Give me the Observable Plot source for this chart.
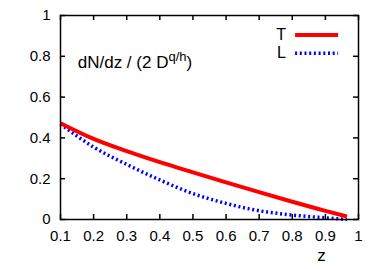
<!DOCTYPE html>
<html><head><meta charset="utf-8">
<script src="https://cdn.jsdelivr.net/npm/d3@7"></script>
<script src="https://cdn.jsdelivr.net/npm/@observablehq/plot@0.6"></script>
<style>html,body{margin:0;padding:0;background:#fff;}</style>
</head><body><div id="chart"></div>
<script>
// ---- data ----
const z  = [0.1, 0.2, 0.3, 0.4, 0.5, 0.6, 0.7, 0.8, 0.9, 0.965];
const dT = [0.472, 0.395, 0.335, 0.281, 0.231, 0.182, 0.134, 0.087, 0.042, 0.015];
const dL = [0.468, 0.355, 0.27, 0.194, 0.127, 0.079, 0.043, 0.022, 0.008, 0.0];
const seriesNames = ["T", "L"];
const xTicks = [0.1, 0.2, 0.3, 0.4, 0.5, 0.6, 0.7, 0.8, 0.9, 1];
const xTickLabels = ["0.1", "0.2", "0.3", "0.4", "0.5", "0.6", "0.7", "0.8", "0.9", "1"];
const yTicks = [0, 0.2, 0.4, 0.6, 0.8, 1];
const yTickLabels = ["0", "0.2", "0.4", "0.6", "0.8", "1"];
const annotationText = "dN/dz / (2 D";
const annotationSup = "q/h";
const annotationEnd = ")";
const xLabel = "z";

// ---- layout / style ----
const W = 385, H = 269;
const mL = 60, mR = 27, mT = 15, mB = 50;
const innerW = W - mL - mR, innerH = H - mT - mB;
const tickLen = 5;
const colors = {T: "#ff0000", L: "#0000ff"};
const dash = "2,2.7";
const legendPos = {xText: 0.781, x1: 0.81, x2: 0.94, y: {T: 0.905, L: 0.815}};
const annotationPos = {x: 0.152, y: 0.745};
const xLabelPos = 0.888;

const rowsT = z.map((v, i) => ({z: v, d: dT[i]}));
const rowsL = z.map((v, i) => ({z: v, d: dL[i]}));
const legendRows = seriesNames.map(s => ({s, y: legendPos.y[s]}));

const font = "'Liberation Sans', Arial, Helvetica, sans-serif";

const plot = Plot.plot({
  width: W, height: H,
  marginLeft: mL, marginRight: mR, marginTop: mT, marginBottom: mB,
  style: {fontFamily: font, fontSize: "15px", color: "#000", background: "#fff"},
  x: {domain: [0.1, 1]},
  y: {domain: [0, 1]},
  marks: [
    Plot.axisX(xTicks, {tickSize: 0, tickPadding: 11, tickFormat: (d, i) => xTickLabels[i], label: null, fontSize: 15}),
    Plot.axisY(yTicks, {tickSize: 0, tickPadding: 10, tickFormat: (d, i) => yTickLabels[i], label: null, fontSize: 15}),
    // inward ticks, mirrored on all four sides
    Plot.tickX(xTicks, {x: d => d, insetTop: innerH - tickLen, stroke: "#000", strokeWidth: 1.5}),
    Plot.tickX(xTicks, {x: d => d, insetBottom: innerH - tickLen, stroke: "#000", strokeWidth: 1.5}),
    Plot.tickY(yTicks, {y: d => d, insetRight: innerW - tickLen, stroke: "#000", strokeWidth: 1.5}),
    Plot.tickY(yTicks, {y: d => d, insetLeft: innerW - tickLen, stroke: "#000", strokeWidth: 1.5}),
    // curves
    Plot.line(rowsL, {x: "z", y: "d", stroke: colors.L, strokeWidth: 3.5, strokeDasharray: dash, strokeLinecap: "butt", curve: "monotone-x"}),
    Plot.line(rowsT, {x: "z", y: "d", stroke: colors.T, strokeWidth: 4, strokeLinecap: "butt", curve: "monotone-x"}),
    Plot.frame({stroke: "#000", strokeWidth: 1.5}),
    // legend
    Plot.text(legendRows, {x: () => legendPos.xText, y: "y", text: "s", textAnchor: "end", fontSize: 16}),
    Plot.ruleY(legendRows.filter(d => d.s === "T"), {x1: () => legendPos.x1, x2: () => legendPos.x2, y: "y", stroke: colors.T, strokeWidth: 4}),
    Plot.ruleY(legendRows.filter(d => d.s === "L"), {x1: () => legendPos.x1, x2: () => legendPos.x2, y: "y", stroke: colors.L, strokeWidth: 3.5, strokeDasharray: dash, strokeLinecap: "butt"}),
    // annotation
    Plot.text([annotationText], {x: () => annotationPos.x, y: () => annotationPos.y, text: d => d, textAnchor: "start", lineAnchor: "bottom", fontSize: 17}),
    // x label
    Plot.text([xLabel], {x: () => xLabelPos, frameAnchor: "bottom", dy: 41, text: d => d, fontSize: 17})
  ]
});

// superscript on the annotation
d3.select(plot).selectAll("text").filter(function() { return this.textContent === annotationText; })
  .each(function() {
    const t = d3.select(this);
    t.append("tspan").attr("dy", -7).attr("font-size", 13).text(annotationSup);
    t.append("tspan").attr("dy", 7).text(annotationEnd);
  });

document.getElementById("chart").appendChild(plot);
</script>
</body></html>
